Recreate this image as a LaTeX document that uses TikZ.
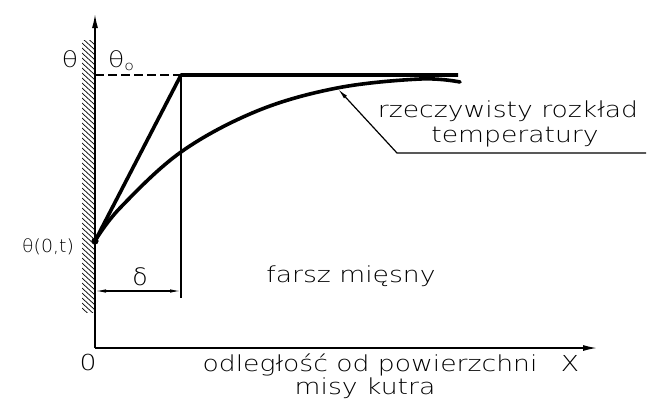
\documentclass[tikz,border=0pt]{standalone}
\usepackage{fontspec}
\usetikzlibrary{arrows.meta}
\newfontfamily\cad{DejaVu Sans ExtraLight}[FakeStretch=1.21]
\newfontfamily\cadn{DejaVu Sans ExtraLight}[FakeStretch=1.05]
\begin{document}
\begin{tikzpicture}[x=1pt,y=-1pt,
  every node/.style={font=\cad\fontsize{22}{24}\selectfont, inner sep=0pt, anchor=base},
  thickline/.style={line width=3.6pt},
  thinline/.style={line width=1.2pt},
  axis/.style={line width=1.5pt},
  hatch/.style={line width=0.7pt}]
\useasboundingbox (0,0) rectangle (647,400);
% coordinates
\coordinate (O) at (95,348);
\coordinate (ytop) at (95,14);
\coordinate (xend) at (597,348);
\coordinate (t0) at (95,75);
\coordinate (K) at (181,75);
\coordinate (E) at (458,75);
\coordinate (S) at (95,241);
\coordinate (Kb) at (181,298);
\coordinate (d1) at (95,291);
\coordinate (d2) at (181,291);
\coordinate (la) at (338,89);
\coordinate (lb) at (397,153);
\coordinate (lc) at (646,153);
% hatching
\begin{scope}
  \clip (82,40) rectangle (95,312);
  \foreach \y in {28,33,...,312} \draw[hatch] (82,\y) -- (95,\y+12);
\end{scope}
% axes
\draw[axis,-{Latex[length=14pt,width=6pt]}] (O) -- (ytop);
\draw[axis,-{Latex[length=14pt,width=6pt]}] (O) -- (xend);
% lines
\draw[thinline, dash pattern=on 9pt off 4pt] (t0) -- (K);
\draw[thinline] (K) -- (Kb);
\draw[thickline, line join=round] (S) -- (K) -- (E);
\draw[thickline, line cap=round] plot[smooth, tension=0.6] coordinates
  {(95,241) (120,208) (181,152) (257,111) (337,88) (420,79) (460,82)};
\fill (S) circle (3.6pt);
\draw[thinline, {Latex[length=11pt,width=3.5pt]}-{Latex[length=11pt,width=3.5pt]}] (d1) -- (d2);
\draw[thinline, {Latex[length=11pt,width=4pt]}-] (la) -- (lb) -- (lc);
% labels
\node (th) at (70,67) {θ};
\node (th0) at (121,67) {θ\raisebox{-3pt}{\fontsize{13}{13}\selectfont o}};
\node[font=\cadn\fontsize{18}{20}\selectfont] (ths) at (48,252) {θ(0,t)};
\node[font=\cadn\fontsize{24}{26}\selectfont] (del) at (140,285) {δ};
\node (farsz) at (351,282) {farsz mięsny};
\node (zero) at (88,370) {0};
\node (odl) at (370,371) {odległość od powierzchni};
\node (X) at (570,371) {X};
\node (misy) at (365,394) {misy kutra};
\node (rz) at (508,117) {rzeczywisty rozkład};
\node (temp) at (515,142) {temperatury};
\end{tikzpicture}
\end{document}
